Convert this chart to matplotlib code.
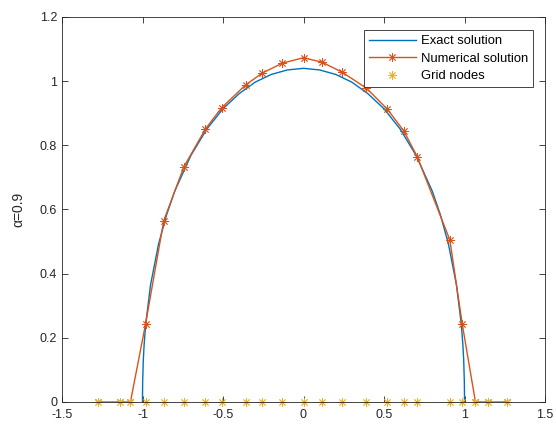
import numpy as np
import matplotlib
matplotlib.use("Agg")
import matplotlib.pyplot as plt

plt.rcParams['font.family'] = ['Liberation Sans', 'DejaVu Sans']

# exact solution, values
x_exact = [-1.0, -0.9999, -0.999, -0.995, -0.99, -0.98, -0.95, -0.9, -0.85, -0.8,
           -0.7, -0.6, -0.5, -0.4, -0.3, -0.2, -0.1, 0.0,
           0.1, 0.2, 0.3, 0.4, 0.5, 0.6, 0.7, 0.8, 0.85, 0.9, 0.95,
           0.98, 0.99, 0.995, 0.999, 0.9999, 1.0]
y_exact = [0.0, 0.023, 0.063, 0.131, 0.178, 0.243, 0.365, 0.493, 0.584, 0.657,
           0.768, 0.851, 0.914, 0.961, 0.997, 1.021, 1.035, 1.04,
           1.035, 1.021, 0.997, 0.961, 0.914, 0.851, 0.768, 0.657, 0.584, 0.493, 0.365,
           0.243, 0.178, 0.131, 0.063, 0.023, 0.0]

# grid nodes
x_nodes = [-1.278, -1.137, -1.075, -0.981, -0.868, -0.743, -0.609, -0.509, -0.360,
           -0.257, -0.132, 0.0, 0.116, 0.240, 0.391, 0.520, 0.623, 0.706, 0.909,
           0.986, 1.068, 1.145, 1.265]
y_num = [0.0, 0.0, 0.0, 0.243, 0.565, 0.733, 0.851, 0.917, 0.988,
         1.025, 1.056, 1.073, 1.059, 1.028, 0.978, 0.913, 0.845, 0.765, 0.505,
         0.243, 0.0, 0.0, 0.0]
y_nodes = [0.0] * len(x_nodes)

fig = plt.figure(figsize=(5.56, 4.25), dpi=100)
ax = fig.add_axes([62/556, 23/425, (545-62)/556, (402-17)/425])

star = (8, 2, 0)
ax.plot(x_exact, y_exact, color='#0072BD', lw=1.0, label='Exact solution')
ax.plot(x_nodes, y_num, color='#D95319', lw=1.0, marker=star, ms=6,
        mew=0.6, label='Numerical solution')
ax.plot(x_nodes, y_nodes, ls='none', color='#EDB120', marker=star, ms=6,
        mew=0.6, label='Grid nodes', clip_on=False)

ax.set_xlim(-1.5, 1.5)
ax.set_ylim(0, 1.2)
ax.set_xticks([-1.5, -1, -0.5, 0, 0.5, 1, 1.5])
ax.set_xticklabels(['-1.5', '-1', '-0.5', '0', '0.5', '1', '1.5'])
ax.set_yticks([0, 0.2, 0.4, 0.6, 0.8, 1.0, 1.2])
ax.set_yticklabels(['0', '0.2', '0.4', '0.6', '0.8', '1', '1.2'])
ax.tick_params(direction='in', top=True, right=True, labelsize=9,
               colors='#262626', length=4, width=0.6)
ax.tick_params(axis='x', pad=5)
for s in ax.spines.values():
    s.set_color('#262626')
    s.set_linewidth(0.6)
ax.set_ylabel('α=0.9', fontsize=10, color='#262626', labelpad=10)

leg = ax.legend(loc='upper right', bbox_to_anchor=(0.975, 0.965), fontsize=9.4,
                fancybox=False, framealpha=1, edgecolor='#262626',
                borderpad=0.35, labelspacing=0.42, handlelength=3.6,
                handletextpad=0.4, borderaxespad=0)
leg.get_frame().set_linewidth(0.6)

fig.savefig('out.png', dpi=100)
